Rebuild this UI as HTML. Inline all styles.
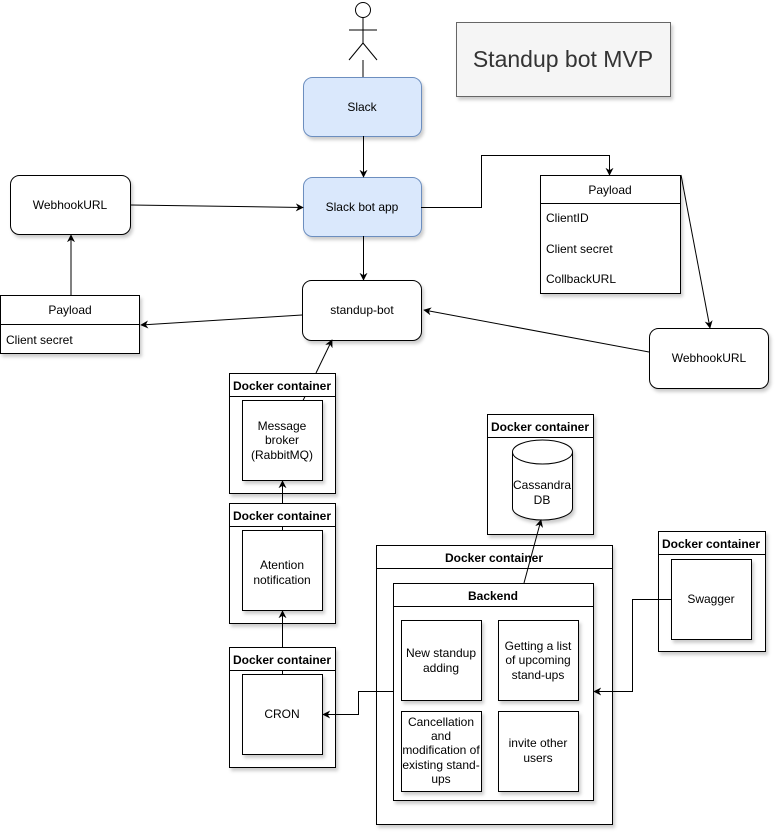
<!DOCTYPE html>
<html><head><meta charset="utf-8"><style>
html,body{margin:0;padding:0;background:#fff;}
svg{display:block;font-family:"Liberation Sans",Arial,sans-serif;}
</style></head><body>
<svg width="780" height="836" viewBox="0 0 780 836" xmlns="http://www.w3.org/2000/svg">
<defs>
<marker id="a" viewBox="0 0 10 10" refX="9" refY="5" markerWidth="8" markerHeight="8" orient="auto-start-reverse" markerUnits="userSpaceOnUse">
<path d="M0,0 L10,5 L0,10 L3,5 Z" fill="#000"/></marker>
<filter id="s" x="-10%" y="-10%" width="130%" height="130%"><feDropShadow dx="2" dy="3" stdDeviation="1.5" flood-color="#000" flood-opacity="0.2"/></filter>
</defs>
<g fill="#fff" stroke="#000" stroke-width="1" filter="url(#s)">
<rect x="456.5" y="22.5" width="214" height="74" fill="#f5f5f5" stroke="#666"/>
<rect x="303.5" y="77.5" width="118" height="59" rx="9" fill="#dae8fc" stroke="#6c8ebf"/>
<rect x="303.5" y="177.5" width="118" height="59" rx="9" fill="#dae8fc" stroke="#6c8ebf"/>
<rect x="10.5" y="175.5" width="120" height="59" rx="9"/>
<rect x="302.5" y="280.5" width="119" height="60" rx="9"/>
<rect x="540.5" y="175.5" width="140" height="118"/>
<rect x="649.5" y="328.5" width="119" height="60" rx="9"/>
<rect x="0.5" y="295.5" width="139" height="58"/>
<rect x="229.5" y="373.5" width="106" height="120"/>
<rect x="229.5" y="503.5" width="106" height="120"/>
<rect x="229.5" y="647.5" width="106" height="120"/>
<rect x="487.5" y="414.5" width="106" height="120"/>
<rect x="376.5" y="545.5" width="236" height="279"/>
<rect x="658.5" y="531.5" width="107" height="120"/>
</g>
<g fill="none" stroke="#000">
<line x1="540" y1="203.5" x2="680" y2="203.5"/>
<line x1="0" y1="324.5" x2="139" y2="324.5"/>
<line x1="229" y1="396.5" x2="335" y2="396.5"/>
<line x1="229" y1="526.5" x2="335" y2="526.5"/>
<line x1="229" y1="670.5" x2="335" y2="670.5"/>
<line x1="487" y1="437.5" x2="593" y2="437.5"/>
<line x1="376" y1="568.5" x2="612" y2="568.5"/>
<line x1="658" y1="554.5" x2="765" y2="554.5"/>
<line x1="282.5" y1="526.5" x2="282.5" y2="530.5"/>
<line x1="282.5" y1="670.5" x2="282.5" y2="674.5"/>
<line x1="305" y1="396.5" x2="303" y2="400.5"/>
</g>
<g fill="#fff" stroke="#000" filter="url(#s)">
<rect x="393.5" y="583.5" width="200" height="217"/>
</g>
<line x1="393" y1="606.5" x2="593" y2="606.5" stroke="#000"/>
<g fill="#fff" stroke="#000" filter="url(#s)">
<rect x="242.5" y="400.5" width="80" height="80"/>
<rect x="242.5" y="530.5" width="80" height="80"/>
<rect x="242.5" y="674.5" width="80" height="80"/>
<rect x="671.5" y="559.5" width="80" height="80"/>
<rect x="401.5" y="620.5" width="80" height="80"/>
<rect x="498.5" y="620.5" width="80" height="80"/>
<rect x="401.5" y="711.5" width="80" height="80"/>
<rect x="498.5" y="711.5" width="80" height="80"/>
<path d="M512.5,452 A30,12 0 0 1 572.5,452 L572.5,508 A30,12 0 0 1 512.5,508 Z"/>
</g>
<path d="M512.5,452 A30,12 0 0 0 572.5,452" fill="none" stroke="#000"/>
<g fill="none" stroke="#000">
<circle cx="363" cy="10" r="7.5" fill="#fff"/>
<line x1="363" y1="18" x2="363" y2="43"/>
<line x1="349" y1="30" x2="377" y2="30"/>
<line x1="363" y1="43" x2="349" y2="60"/>
<line x1="363" y1="43" x2="377" y2="60"/>
<line x1="363" y1="60" x2="363" y2="77"/>
</g>
<g fill="none" stroke="#000" marker-end="url(#a)">
<line x1="363.5" y1="136" x2="363.5" y2="177"/>
<line x1="131" y1="205" x2="303" y2="207.5"/>
<polyline points="421,207.5 481.5,207.5 481.5,155.5 609.5,155.5 609.5,175"/>
<line x1="363.5" y1="236" x2="363.5" y2="280"/>
<line x1="681" y1="175" x2="710" y2="328"/>
<line x1="649" y1="352" x2="424" y2="310"/>
<line x1="302" y1="315" x2="141" y2="325"/>
<line x1="71" y1="295" x2="71" y2="235"/>
<line x1="316" y1="373" x2="332" y2="340"/>
<line x1="282.5" y1="503" x2="282.5" y2="481"/>
<line x1="282.5" y1="647" x2="282.5" y2="611"/>
<polyline points="393,691.5 358.5,691.5 358.5,714.5 323,714.5"/>
<polyline points="671,599.5 632.5,599.5 632.5,691.5 594,691.5"/>
<line x1="524" y1="583" x2="541" y2="520"/>
</g>
<g font-size="12" fill="#000" text-anchor="middle">
<text x="563" y="67" font-size="23" fill="#333">Standup bot MVP</text>
<text x="362" y="111">Slack</text>
<text x="362" y="211">Slack bot app</text>
<text x="70" y="209">WebhookURL</text>
<text x="362" y="314">standup-bot</text>
<text x="610" y="194">Payload</text>
<text x="709" y="362">WebhookURL</text>
<text x="70" y="314">Payload</text>
<g text-anchor="start">
<text x="546" y="222">ClientID</text>
<text x="546" y="253">Client secret</text>
<text x="546" y="283">CollbackURL</text>
<text x="6" y="344">Client secret</text>
</g>
<g font-weight="bold">
<text x="282" y="390">Docker container</text>
<text x="282" y="520">Docker container</text>
<text x="282" y="664">Docker container</text>
<text x="540" y="431">Docker container</text>
<text x="494" y="562">Docker container</text>
<text x="711" y="548">Docker container</text>
<text x="493" y="600">Backend</text>
</g>
<text x="282" y="430">Message</text>
<text x="282" y="444">broker</text>
<text x="282" y="459">(RabbitMQ)</text>
<text x="282" y="569">Atention</text>
<text x="282" y="584">notification</text>
<text x="282" y="718">CRON</text>
<text x="542" y="489">Cassandra</text>
<text x="542" y="504">DB</text>
<text x="711" y="603">Swagger</text>
<text x="441" y="657">New standup</text>
<text x="441" y="672">adding</text>
<text x="538" y="650">Getting a list</text>
<text x="538" y="664">of upcoming</text>
<text x="538" y="679">stand-ups</text>
<text x="441" y="726">Cancellation</text>
<text x="441" y="740">and</text>
<text x="441" y="754">modification of</text>
<text x="441" y="769">existing stand-</text>
<text x="441" y="783">ups</text>
<text x="538" y="747">invite other</text>
<text x="538" y="762">users</text>
</g>
</svg>
</body></html>
